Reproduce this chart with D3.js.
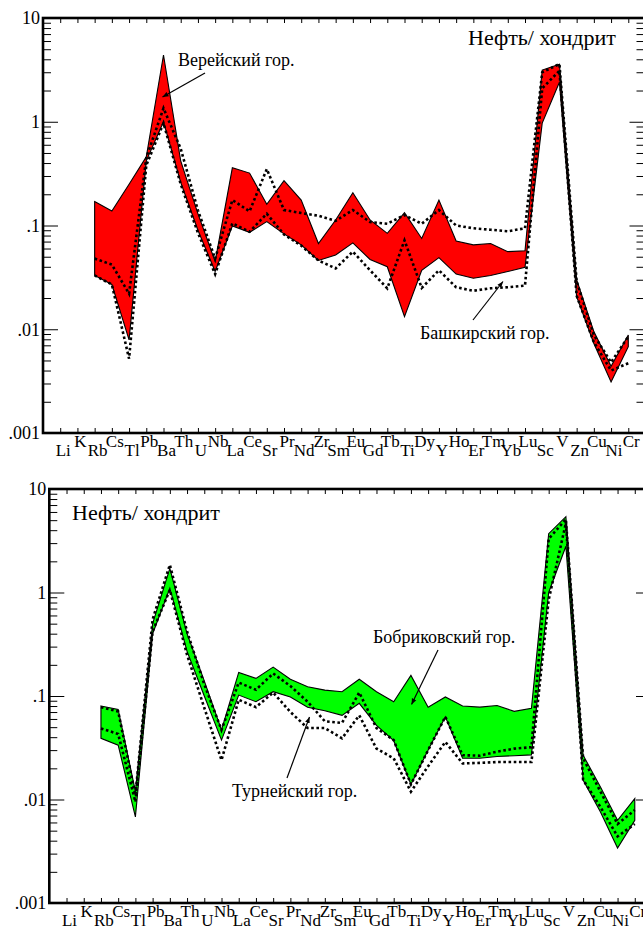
<!DOCTYPE html>
<html><head><meta charset="utf-8">
<script src="https://cdn.jsdelivr.net/npm/d3@7"></script>
<style>
body{margin:0;background:#fff}
svg{display:block}
text{font-family:"Liberation Serif","Times New Roman",serif;fill:#000}
</style>
</head><body>
<svg id="c" width="643" height="929"></svg>
<script>
const categories = ["Li","K","Rb","Cs","Tl","Pb","Ba","Th","U","Nb","La","Ce","Sr","Pr","Nd","Zr","Sm","Eu","Gd","Tb","Ti","Dy","Y","Ho","Er","Tm","Yb","Lu","Sc","V","Zn","Cu","Ni","Cr"];
const yTickValues = [10, 1, 0.1, 0.01, 0.001];
const yTickLabels = ["10", "1", ".1", ".01", ".001"];

// Верейский горизонт (red band)
const vereiUpper = [null,null,0.17,0.138,0.25,0.46,4.4,0.42,0.13,0.045,0.36,0.32,0.16,0.27,0.176,0.067,0.113,0.207,0.113,0.084,0.133,0.075,0.176,0.071,0.065,0.067,0.056,0.057,3.15,3.58,0.030,0.0095,0.0044,0.0088];
const vereiLower = [null,null,0.033,0.027,0.0079,0.42,1.0,0.26,0.09,0.036,0.099,0.086,0.109,0.083,0.065,0.046,0.052,0.068,0.047,0.040,0.0132,0.037,0.049,0.034,0.031,0.033,0.036,0.0395,0.97,2.4,0.0206,0.0073,0.0031,0.0068];
// Башкирский горизонт (dotted)
const bashUpper = [null,null,0.048,0.042,0.022,0.45,1.35,0.55,0.14,0.048,0.176,0.137,0.35,0.141,0.132,0.124,0.111,0.141,0.108,0.104,0.126,0.104,0.141,0.1,0.094,0.091,0.088,0.094,3.0,3.6,0.029,0.0088,0.0048,0.0085];
const bashLower = [null,null,0.033,0.027,0.0052,0.38,0.97,0.25,0.085,0.034,0.105,0.087,0.13,0.082,0.064,0.046,0.0386,0.056,0.037,0.0248,0.072,0.025,0.037,0.0254,0.0235,0.0248,0.0254,0.0263,2.1,3.1,0.021,0.0075,0.0040,0.0047];
// Бобриковский горизонт (green band)
const bobUpper = [null,null,0.080,0.074,0.012,0.50,1.71,0.40,0.14,0.047,0.169,0.148,0.19,0.145,0.123,0.114,0.11,0.145,0.11,0.088,0.158,0.078,0.098,0.080,0.078,0.081,0.071,0.076,3.7,5.4,0.0268,0.0133,0.0063,0.0102];
const bobLower = [null,null,0.039,0.0335,0.0068,0.40,1.1,0.27,0.10,0.0375,0.102,0.088,0.11,0.098,0.078,0.072,0.065,0.085,0.052,0.037,0.0140,0.030,0.063,0.025,0.025,0.026,0.0265,0.027,1.0,2.8,0.0154,0.0076,0.0034,0.0063];
// Турнейский горизонт (dotted)
const turUpper = [null,null,0.078,0.071,0.011,0.55,1.85,0.42,0.13,0.047,0.135,0.115,0.165,0.125,0.088,0.057,0.055,0.108,0.049,0.0375,0.014,0.03,0.063,0.0268,0.0265,0.029,0.031,0.032,3.3,5.1,0.025,0.012,0.0058,0.0079];
const turLower = [null,null,0.0486,0.043,0.0095,0.42,1.06,0.25,0.077,0.024,0.092,0.078,0.108,0.07,0.049,0.049,0.039,0.065,0.031,0.025,0.0119,0.021,0.036,0.0223,0.0226,0.023,0.023,0.023,0.85,4.7,0.0155,0.0085,0.0044,0.0058];

const svg = d3.select("#c");
svg.append("defs").append("marker")
  .attr("id","ah").attr("viewBox","0 0 10 10").attr("refX",10).attr("refY",5)
  .attr("markerWidth",6).attr("markerHeight",6).attr("markerUnits","userSpaceOnUse").attr("orient","auto")
  .append("path").attr("d","M0,1L10,5L0,9Z").attr("fill","#000");

const minorTicks = [];
[0.001,0.01,0.1,1].forEach(d => { for (let k=2;k<=9;k++) minorTicks.push(d*k); });

function panel(o){
  const x = d3.scalePoint().domain(categories).range([o.left,o.right]).padding(1);
  const y = d3.scaleLog().domain([0.001,10]).range([o.bottom,o.top]);
  const g = svg.append("g");
  const idx = d3.range(categories.length);

  const area = d3.area()
    .defined(i => o.bandUpper[i] != null)
    .x(i => x(categories[i]))
    .y0(i => y(o.bandLower[i]))
    .y1(i => y(o.bandUpper[i]));
  g.append("path").datum(idx).attr("d", area)
    .attr("fill", o.color).attr("stroke","#000").attr("stroke-width",1.1);

  [o.dotUpper, o.dotLower].forEach(arr => {
    const line = d3.line().defined(i => arr[i] != null)
      .x(i => x(categories[i])).y(i => y(arr[i]));
    g.append("path").datum(idx).attr("d", line)
      .attr("fill","none").attr("stroke","#000").attr("stroke-width",2.6)
      .attr("stroke-dasharray","2.6 2.6");
  });

  // axes
  const clean = s => s.select(".domain").remove();
  g.append("g").attr("transform",`translate(${o.left},0)`)
    .call(d3.axisLeft(y).tickValues(yTickValues).tickFormat((d,i)=>yTickLabels[i]).tickSizeInner(-15).tickSizeOuter(0).tickPadding(3))
    .call(clean)
    .call(s => s.selectAll("text").style("font-size","18px").style("font-family","Liberation Serif").attr("fill","#000"))
    .call(s => s.selectAll("line").attr("stroke","#000"));
  g.append("g").attr("transform",`translate(${o.left},0)`)
    .call(d3.axisLeft(y).tickValues(minorTicks).tickFormat("").tickSizeInner(-8).tickSizeOuter(0))
    .call(clean);
  g.append("g").attr("transform",`translate(${o.right},0)`)
    .call(d3.axisRight(y).tickValues(yTickValues).tickFormat("").tickSizeInner(-16).tickSizeOuter(0))
    .call(clean);
  g.append("g").attr("transform",`translate(${o.right},0)`)
    .call(d3.axisRight(y).tickValues(minorTicks).tickFormat("").tickSizeInner(-9).tickSizeOuter(0))
    .call(clean);
  g.append("g").attr("transform",`translate(0,${o.bottom})`)
    .call(d3.axisBottom(x).tickFormat("").tickSizeInner(-5).tickSizeOuter(0))
    .call(clean);
  g.append("g").attr("transform",`translate(0,${o.top})`)
    .call(d3.axisTop(x).tickFormat("").tickSizeInner(-5).tickSizeOuter(0))
    .call(clean);
  g.append("rect").attr("x",o.left).attr("y",o.top)
    .attr("width",o.right-o.left).attr("height",o.bottom-o.top)
    .attr("fill","none").attr("stroke","#000").attr("stroke-width",2.6);

  g.selectAll("text.cat").data(categories).join("text").attr("class","cat")
    .attr("x", d => x(d)+3)
    .attr("y", (d,i) => o.bottom + (i%2 ? 14 : 23))
    .attr("text-anchor","middle").style("font-size","17px").text(d => d);

  g.append("text").attr("x",o.title[0]).attr("y",o.title[1]).style("font-size","22px").text("Нефть/ хондрит");
  o.notes.forEach(n => {
    g.append("text").attr("x",n.tx).attr("y",n.ty).style("font-size","18px").text(n.text);
    g.append("line").attr("x1",n.from[0]).attr("y1",n.from[1]).attr("x2",n.to[0]).attr("y2",n.to[1])
      .attr("stroke","#000").attr("stroke-width",1.2).attr("marker-end","url(#ah)");
  });
}

panel({
  left:43, right:645.5, top:18, bottom:433, color:"#ff0000",
  bandUpper:vereiUpper, bandLower:vereiLower, dotUpper:bashUpper, dotLower:bashLower,
  title:[468,45],
  notes:[
    {text:"Верейский гор.", tx:178, ty:66, from:[205,73], to:[162.5,97]},
    {text:"Башкирский гор.", tx:420, ty:339, from:[473,320], to:[503,281.5]}
  ]
});
panel({
  left:49.3, right:652, top:489, bottom:903, color:"#00ff00",
  bandUpper:bobUpper, bandLower:bobLower, dotUpper:turUpper, dotLower:turLower,
  title:[72,520],
  notes:[
    {text:"Бобриковский гор.", tx:373, ty:643, from:[438,650], to:[411.5,704.5]},
    {text:"Турнейский гор.", tx:232, ty:797, from:[287,778], to:[309.5,717]}
  ]
});
</script>
</body></html>
